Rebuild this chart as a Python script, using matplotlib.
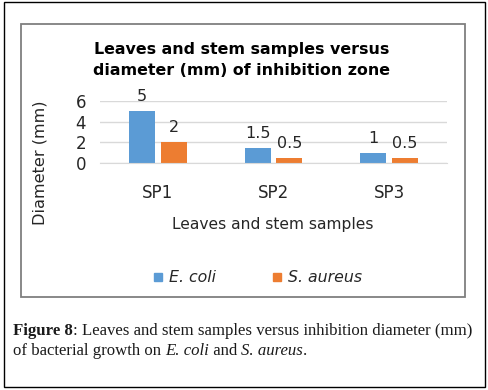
import matplotlib
matplotlib.use('Agg')
import matplotlib.pyplot as plt
from matplotlib.patches import Rectangle
import numpy as np

### Data

categories = ['SP1', 'SP2', 'SP3']
ecoli = [5, 1.5, 1]
saureus = [2, 0.5, 0.5]
ecoli_labels = ['5', '1.5', '1']
saureus_labels = ['2', '0.5', '0.5']
y_ticks = [0, 2, 4, 6]

blue = '#5B9BD5'
orange = '#ED7D31'
txt = '#262626'

W, H = 489, 390
fig = plt.figure(figsize=(W / 100, H / 100), dpi=100)

def fx(px):
    return px / W

def fy(py):
    return 1 - py / H

# outer frame and chart frame
fig.patches.append(Rectangle((fx(4), fy(387)), fx(485) - fx(4), fy(2) - fy(387),
                             transform=fig.transFigure, fill=False, edgecolor='black', lw=1.0))
fig.patches.append(Rectangle((fx(21), fy(297)), fx(465) - fx(21), fy(24) - fy(297),
                             transform=fig.transFigure, fill=False, edgecolor='#7F7F7F', lw=1.3))

### Axes

ax = fig.add_axes([fx(100), fy(163), fx(447) - fx(100), fy(101) - fy(163)])
x = np.arange(len(categories))
off = 0.138
bw = 0.225
b1 = ax.bar(x - off, ecoli, bw, color=blue, zorder=2)
b2 = ax.bar(x + off, saureus, bw, color=orange, zorder=2)

for bars, labels in [(b1, ecoli_labels), (b2, saureus_labels)]:
    for rect, lab in zip(bars, labels):
        ax.annotate(lab, (rect.get_x() + rect.get_width() / 2, rect.get_height()),
                    xytext=(0, 5), textcoords='offset points', ha='center', va='bottom',
                    fontsize=11.5, color=txt)

ax.set_xlim(-0.5, 2.5)
ax.set_ylim(0, 6)
ax.set_yticks(y_ticks)
ax.set_xticks(x)
ax.set_xticklabels(categories)
ax.yaxis.grid(True, color='#D9D9D9', lw=1.0, zorder=0)
ax.set_axisbelow(True)
for s in ['top', 'right', 'left']:
    ax.spines[s].set_visible(False)
ax.spines['bottom'].set_color('#D9D9D9')
ax.tick_params(axis='both', length=0, labelsize=12, colors=txt)
ax.tick_params(axis='x', pad=15)
ax.tick_params(axis='y', pad=10)

### Texts

fig.text(fx(242), fy(60), 'Leaves and stem samples versus\ndiameter (mm) of inhibition zone',
         ha='center', va='center', fontsize=11.4, fontweight='bold', linespacing=1.55)
fig.text(fx(273), fy(225), 'Leaves and stem samples', ha='center', va='center',
         fontsize=11.2, color=txt)
fig.text(fx(40), fy(163), 'Diameter (mm)', ha='center', va='center', rotation=90,
         fontsize=11.6, color=txt)

# legend
fig.patches.append(Rectangle((fx(154), fy(281)), fx(8), fy(0) - fy(8), transform=fig.transFigure,
                             color=blue))
fig.text(fx(169), fy(277), 'E. coli', ha='left', va='center', fontsize=11.3,
         style='italic', color=txt)
fig.patches.append(Rectangle((fx(273), fy(281)), fx(8), fy(0) - fy(8), transform=fig.transFigure,
                             color=orange))
fig.text(fx(288), fy(277), 'S. aureus', ha='left', va='center', fontsize=11.3,
         style='italic', color=txt)

# caption, drawn piece by piece
renderer = fig.canvas.get_renderer()

def caption_line(pieces, x0, y0):
    xp = x0
    for s, weight, style in pieces:
        t = fig.text(fx(xp), fy(y0), s, fontsize=12.1, family='Liberation Serif',
                     fontweight=weight, style=style, color='#1a1a1a',
                     ha='left', va='baseline')
        xp += t.get_window_extent(renderer).width

caption_line([('Figure 8', 'bold', 'normal'),
              (': Leaves and stem samples versus inhibition diameter (mm)', 'normal', 'normal')],
             13, 335)
caption_line([('of bacterial growth on ', 'normal', 'normal'),
              ('E. coli', 'normal', 'italic'),
              (' and ', 'normal', 'normal'),
              ('S. aureus', 'normal', 'italic'),
              ('.', 'normal', 'normal')],
             13, 355)

fig.savefig('out.png', dpi=100)
